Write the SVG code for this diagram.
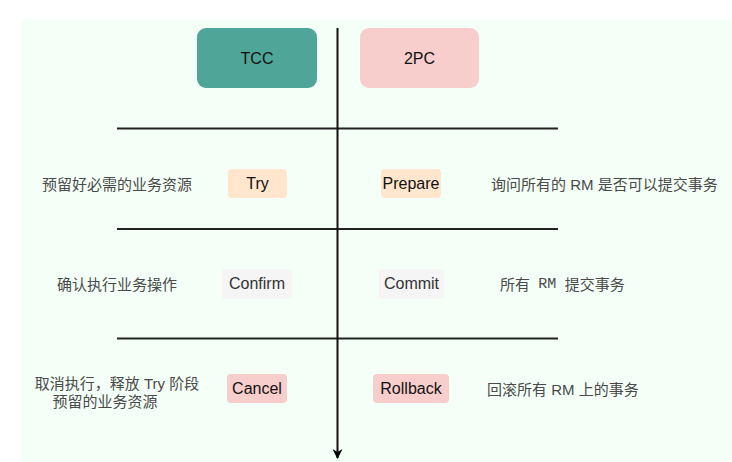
<svg xmlns="http://www.w3.org/2000/svg" width="732" height="462" viewBox="0 0 732 462">
<style>
.lbl{font-family:"Liberation Sans","Noto Sans CJK SC",sans-serif;font-size:16px;fill:#111;text-anchor:middle;dominant-baseline:central}
.desc{font-family:"Liberation Sans","Noto Sans CJK SC",sans-serif;font-size:15px;fill:#4a4a4a;dominant-baseline:central}
.hl{stroke:#222;stroke-width:2}
</style>
<defs>
<marker id="ah" markerWidth="10" markerHeight="10" refX="9" refY="5" orient="auto" markerUnits="userSpaceOnUse">
<path d="M0,0 L10,5 L0,10 L3,5 Z" fill="#000"/>
</marker>
</defs>
<rect x="0" y="0" width="732" height="462" fill="#fff"/>
<rect x="21" y="20" width="720" height="450" rx="4" fill="#f4fff7"/>
<g id="connectors">
<line class="hl" x1="117" y1="128.5" x2="558" y2="128.5"/>
<line class="hl" x1="117" y1="229" x2="558" y2="229"/>
<line class="hl" x1="117" y1="338.5" x2="558" y2="338.5"/>
<line x1="337.5" y1="28" x2="337.5" y2="458" stroke="#111" stroke-width="2" marker-end="url(#ah)"/>
</g>
<g id="tcc"><rect x="197" y="28" width="120" height="60" rx="9" fill="#4fa597"/><text class="lbl" x="257" y="58">TCC</text></g>
<g id="twopc"><rect x="360" y="28" width="119" height="60" rx="9" fill="#f8cecc"/><text class="lbl" x="419.5" y="58">2PC</text></g>
<g id="try"><rect x="228" y="169" width="59" height="29" rx="4" fill="#ffe6cc"/><text class="lbl" x="257.5" y="183.5">Try</text></g>
<g id="prepare"><rect x="381" y="169" width="60" height="29" rx="4" fill="#ffe6cc"/><text class="lbl" x="411" y="183.5">Prepare</text></g>
<g id="confirm"><rect x="222" y="269" width="70" height="30" rx="4" fill="#f5f5f5"/><text class="lbl" x="257" y="283.5" style="fill:#333">Confirm</text></g>
<g id="commit"><rect x="379" y="269" width="65" height="30" rx="4" fill="#f5f5f5"/><text class="lbl" x="411.5" y="283.5" style="fill:#333">Commit</text></g>
<g id="cancel"><rect x="227" y="374" width="60" height="29" rx="4" fill="#f8cecc"/><text class="lbl" x="257" y="388">Cancel</text></g>
<g id="rollback"><rect x="373" y="374" width="76" height="29" rx="4" fill="#f8cecc"/><text class="lbl" x="411" y="388">Rollback</text></g>
<g id="d-try"><text class="desc" x="42" y="184">预留好必需的业务资源</text></g>
<g id="d-prepare"><text class="desc" x="491" y="184">询问所有的 RM 是否可以提交事务</text></g>
<g id="d-confirm"><text class="desc" x="57" y="284">确认执行业务操作</text></g>
<g id="d-commit"><text class="desc" x="500" y="284" xml:space="preserve">所有  <tspan font-family="'Liberation Mono',monospace">RM</tspan>  提交事务</text></g>
<g id="d-cancel"><text class="desc" x="117" y="383" text-anchor="middle">取消执行，释放 Try 阶段</text><text class="desc" x="105" y="401" text-anchor="middle">预留的业务资源</text></g>
<g id="d-rollback"><text class="desc" x="487" y="389">回滚所有 RM 上的事务</text></g>
</svg>
